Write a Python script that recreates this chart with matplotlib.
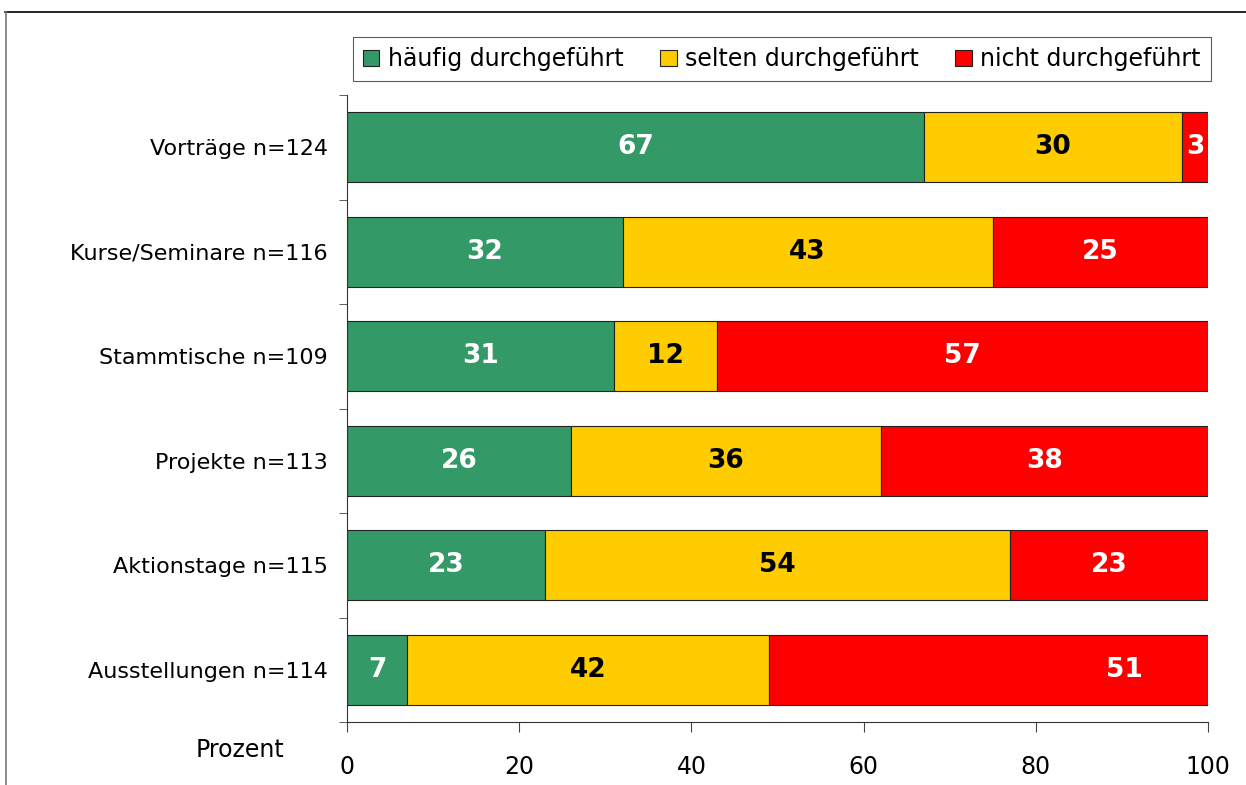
import matplotlib
matplotlib.use("Agg")
import matplotlib.pyplot as plt
import numpy as np
from matplotlib.lines import Line2D

kategorien = ["Vorträge n=124", "Kurse/Seminare n=116", "Stammtische n=109",
              "Projekte n=113", "Aktionstage n=115", "Ausstellungen n=114"]
haeufig = [67, 32, 31, 26, 23, 7]
selten = [30, 43, 12, 36, 54, 42]
nicht = [3, 25, 57, 38, 23, 51]
serien = ["häufig durchgeführt", "selten durchgeführt", "nicht durchgeführt"]
farben = ["#339966", "#FFCC00", "#FF0000"]
textfarben = ["white", "black", "white"]

plt.rcParams['font.family'] = ['DejaVu Sans']

fig = plt.figure(figsize=(12.46, 7.85), dpi=100)
ax = fig.add_axes([347/1246, 1-722/785, (1208-347)/1246, (722-95)/785])

y = np.arange(len(kategorien))
links = np.zeros(len(kategorien))
for werte, name, farbe, tf in zip([haeufig, selten, nicht], serien, farben, textfarben):
    werte = np.array(werte)
    ax.barh(y, werte, left=links, height=0.67, color=farbe, edgecolor="#222222",
            linewidth=0.8, label=name)
    for i, w in enumerate(werte):
        xpos = links[i] + w / 2
        # label in the last bar was moved to the right in the original
        if name == "nicht durchgeführt" and i == 5:
            xpos = links[i] + w * 0.81
        ax.text(xpos, y[i], str(w), ha="center", va="center", color=tf,
                fontsize=19, fontweight="bold")
    links += werte

ax.set_xlim(0, 100)
ax.set_ylim(5.5, -0.5)
ax.set_xticks(np.arange(0, 101, 20))
ax.set_yticks(y)
ax.set_yticklabels(kategorien)
ax.set_yticks(np.arange(-0.5, 6, 1), minor=True)
ax.tick_params(axis="y", which="major", length=0, pad=14, labelsize=16)
ax.tick_params(axis="y", which="minor", length=6, color="#444444")
ax.tick_params(axis="x", length=7, pad=17, labelsize=17, color="#444444")
for s in ["top", "right"]:
    ax.spines[s].set_visible(False)
ax.spines["left"].set_color("#333333")
ax.spines["bottom"].set_color("#333333")

fig.text(240/1246, 1-750/785, "Prozent", ha="center", va="center", fontsize=17)

leg = ax.legend(loc="lower center", bbox_to_anchor=(0.505, 1.022), ncol=3,
                frameon=True, fancybox=False, edgecolor="#333333", fontsize=17,
                handlelength=0.7, handleheight=0.7, handletextpad=0.35,
                columnspacing=1.55, borderpad=0.42, borderaxespad=0)
leg.get_frame().set_linewidth(0.8)

# outer frame of the original graphic
fig.add_artist(Line2D([5/1246, 1], [1-12/785, 1-12/785], color="black", linewidth=1.2,
                      transform=fig.transFigure))
fig.add_artist(Line2D([6/1246, 6/1246], [0, 1-12/785], color="#777777", linewidth=1.2,
                      transform=fig.transFigure))

fig.savefig("out.png", dpi=100)
